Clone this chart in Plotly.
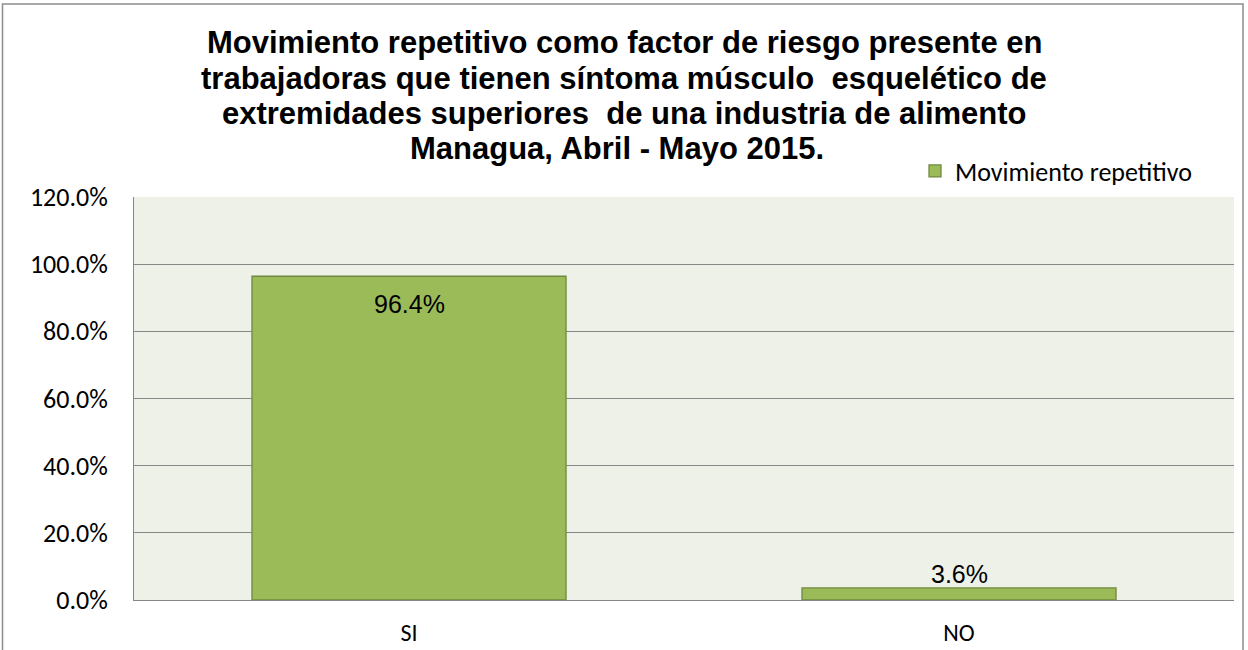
import plotly.graph_objects as go

categories = ["SI", "NO"]
values = [96.4, 3.6]
labels = ["96.4%", "3.6%"]
series_name = "Movimiento repetitivo"
title_lines = [
    "Movimiento repetitivo como factor de riesgo presente en",
    "trabajadoras que tienen síntoma músculo  esquelético de",
    "extremidades superiores  de una industria de alimento",
    "Managua, Abril - Mayo 2015.",
]
tick_vals = [0, 20, 40, 60, 80, 100, 120]
tick_text = ["0.0%", "20.0%", "40.0%", "60.0%", "80.0%", "100.0%", "120.0%"]

W, H = 1248, 650
ML, MR, MT, MB = 134, 14, 197, 50
pw = W - ML - MR
ph = H - MT - MB

def px_x(x):
    return (x - ML) / pw

def px_y(y):
    return (H - MB - y) / ph

fig = go.Figure()
fig.add_trace(go.Bar(
    x=categories, y=values, name=series_name,
    marker=dict(color="#9BBB59", line=dict(color="#71893F", width=1.3)),
    width=0.571, showlegend=True,
))

annotations = []
label_font = dict(family="Liberation Sans, Arial", size=25, color="#000")
annotations.append(dict(x=categories[0], y=values[0], xref="x", yref="y", text=labels[0],
                        showarrow=False, yanchor="middle", yshift=-28, font=label_font))
annotations.append(dict(x=categories[1], y=values[1], xref="x", yref="y", text=labels[1],
                        showarrow=False, yanchor="middle", yshift=14, font=label_font))
title_y = [43, 78, 113, 148]
title_x = [624, 624, 624, 617]
for t, yy, xx in zip(title_lines, title_y, title_x):
    annotations.append(dict(x=px_x(xx), y=px_y(yy), xref="paper", yref="paper", text="<b>" + t + "</b>",
                            showarrow=False, xanchor="center", yanchor="middle",
                            font=dict(family="Liberation Sans, Arial", size=31, color="#000")))

fig.update_layout(
    width=W, height=H,
    margin=dict(l=ML, r=MR, t=MT, b=MB, pad=0, autoexpand=False),
    paper_bgcolor="white",
    plot_bgcolor="#EEF1E8",
    showlegend=True,
    legend=dict(x=px_x(915), y=px_y(171), xanchor="left", yanchor="middle",
                font=dict(family="Carlito, Lato, sans-serif", size=26, color="#000"),
                bgcolor="rgba(0,0,0,0)", itemwidth=30),
    annotations=annotations,
    shapes=[dict(type="rect", xref="paper", yref="paper",
                 x0=px_x(2.5), x1=px_x(1243), y0=px_y(4), y1=px_y(660),
                 line=dict(color="#8C8C8C", width=1.5), layer="below")],
)
fig.update_yaxes(range=[0, 120], tickvals=tick_vals, ticktext=tick_text,
                 showgrid=True, gridcolor="#878787", gridwidth=1,
                 showline=True, linecolor="#878787", linewidth=1,
                 ticks="", ticklabelstandoff=20, zeroline=False, automargin=False,
                 tickfont=dict(family="Carlito, Lato, sans-serif", size=26, color="#000"))
fig.update_xaxes(showline=True, linecolor="#878787", linewidth=1, ticks="",
                 showgrid=False, ticklabelstandoff=11, automargin=False,
                 tickfont=dict(family="Carlito, Lato, sans-serif", size=24, color="#000"))

fig.write_html("out.html", config={"displayModeBar": False},
               post_script="document.body.style.margin='0';")
